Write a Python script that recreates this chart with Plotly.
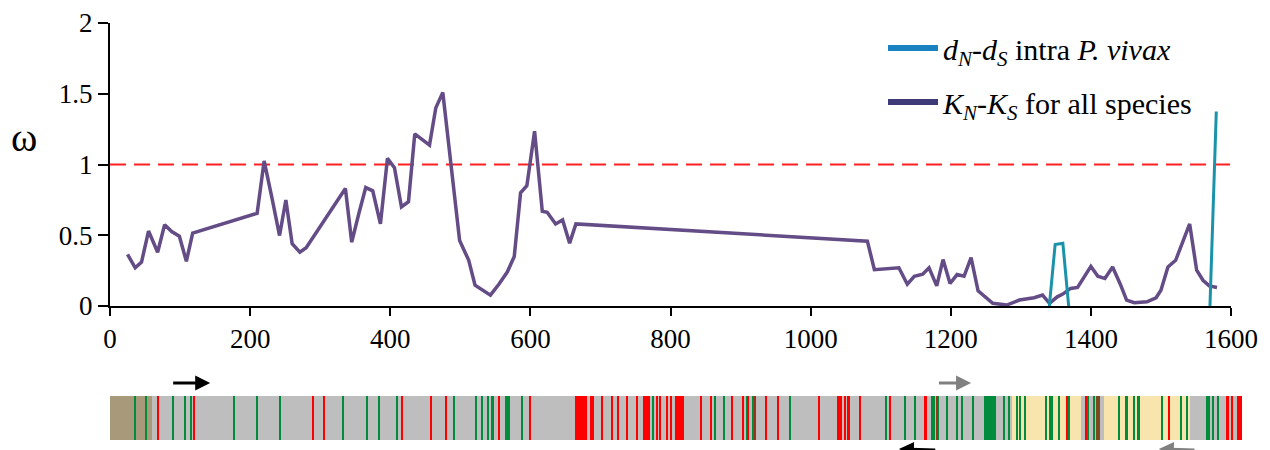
import plotly.graph_objects as go

# ---------------- data ----------------
kn_x = [25, 36, 45, 55, 68, 78, 88, 99, 109, 118,
        210, 220, 231, 242, 251, 260, 271, 280,
        336, 345, 355, 365, 375, 386, 396, 406, 416, 426, 435,
        456, 465, 475,
        499, 512, 521, 543, 555, 567, 577, 586, 595, 606,
        617, 624, 636, 646, 656, 665,
        1081, 1091,
        1126, 1138, 1148, 1160, 1169, 1180, 1189, 1199, 1209, 1219, 1229, 1239,
        1260, 1280, 1298, 1319, 1331, 1341, 1352, 1360, 1371, 1381,
        1400, 1410, 1420, 1431, 1442, 1451, 1462, 1480, 1493, 1500,
        1510, 1521, 1541, 1551, 1560, 1569, 1580]
kn_y = [0.365, 0.27, 0.31, 0.53, 0.38, 0.575, 0.526, 0.493, 0.316, 0.515,
        0.655, 1.025, 0.767, 0.498, 0.749, 0.44, 0.381, 0.412,
        0.83, 0.451, 0.65, 0.837, 0.814, 0.58, 1.043, 0.978, 0.70, 0.737, 1.216,
        1.137, 1.40, 1.509,
        0.463, 0.323, 0.147, 0.077, 0.154, 0.24, 0.35, 0.80, 0.85, 1.235,
        0.669, 0.662, 0.58, 0.608, 0.444, 0.58,
        0.458, 0.257,
        0.27, 0.154, 0.21, 0.225, 0.27, 0.142, 0.328, 0.159, 0.222, 0.21, 0.342, 0.107,
        0.019, 0.007, 0.042, 0.058, 0.077, 0.019, 0.065, 0.084, 0.124, 0.131,
        0.28, 0.21, 0.194, 0.276, 0.154, 0.042, 0.023, 0.03, 0.058, 0.112,
        0.276, 0.323, 0.58, 0.253, 0.182, 0.142, 0.131]

# dN-dS intra P. vivax (values below 0 fall outside the plotted range)
dn_x = [1335, 1349, 1360, 1372, 1568, 1579]
dn_y = [-0.3, 0.435, 0.444, -0.2, -0.3, 1.375]

threshold_x = [0, 1600]
threshold_y = [1, 1]

x_ticks = [0, 200, 400, 600, 800, 1000, 1200, 1400, 1600]
y_ticks = [0, 0.5, 1, 1.5, 2]
y_tick_text = ["0", "0.5", "1", "1.5", "2"]

# ---- gene map strip (positions in residues) ----
bg_start = [0, 60, 1287, 1386, 1419, 1541]
bg_end = [60, 1287, 1386, 1419, 1541, 1617]
bg_kind = ["tan", "gray", "yellow", "gray", "yellow", "gray"]

green_lines = [36, 51, 90, 107, 116, 177, 210, 243, 333, 367, 384, 409, 491,
               522, 531, 539, 546, 588, 775, 864, 876, 909, 918, 970,
               1107, 1135, 1149, 1173, 1176, 1182, 1194, 1209, 1216, 1232,
               1276, 1283, 1294, 1299, 1306, 1336, 1342, 1345, 1355, 1368,
               1396, 1405, 1412, 1440, 1450, 1452, 1462, 1468, 1501, 1528,
               1537, 1566, 1569, 1574, 1581]
red_lines = [68, 120, 290, 306, 417, 458, 480, 555, 600, 686, 690, 702, 717,
             725, 738, 752, 781, 785, 795, 801, 844, 858, 888, 903, 911, 936,
             954, 1012, 1049, 1054, 1071, 1113, 1164, 1366, 1393, 1512, 1595,
             1602]
darkred_lines = [920, 1180]
green_blocks_start = [564, 1248]
green_blocks_end = [571, 1265]
red_blocks_start = [664, 761, 807, 1038, 1609]
red_blocks_end = [681, 771, 819, 1045, 1617]
brown_blocks_start = [1407]
brown_blocks_end = [1413]

# domain arrows (tail, head) in residues
arrow_top_black = (88, 143)
arrow_top_gray = (1181, 1229)
arrow_bot_black = (1180, 1126)
arrow_bot_gray = (1550, 1497)

# ---------------- styling ----------------
OFF = 8                      # page body margin of the browser
W, H = 1270 - OFF, 450 - OFF  # figure fits inside the window
FONT = "Liberation Serif, Times New Roman, DejaVu Serif, serif"
PURPLE = "#644c86"
TEAL = "#1a93aa"
bg_colors = {"tan": "#a8997a", "gray": "#bebebe", "yellow": "#f8e5ae"}
GREEN = "#008c3c"
RED = "#ff0000"
DARKRED = "#a0301a"
BROWN = "#7b4a20"
LINE_W = 3.0  # stripe width in residues


def fx(p):
    return (p - OFF) / W


def fy(p):
    return 1 - (p - OFF) / H


fig = go.Figure()

fig.add_trace(go.Scatter(x=threshold_x, y=threshold_y, mode="lines",
                         line=dict(color="#ff2020", width=2, dash="16px,8px"),
                         showlegend=False, hoverinfo="skip"))
fig.add_trace(go.Scatter(x=kn_x, y=kn_y, mode="lines",
                         line=dict(color=PURPLE, width=3.5),
                         showlegend=False))
fig.add_trace(go.Scatter(x=dn_x, y=dn_y, mode="lines",
                         line=dict(color=TEAL, width=3),
                         showlegend=False))
# legend entries
fig.add_trace(go.Scatter(x=[None], y=[None], mode="lines",
                         line=dict(color="#1b82c2", width=6), legendgroup="a",
                         name="<i>d</i><sub><i>N</i></sub>-<i>d</i><sub><i>S</i></sub> intra <i>P. vivax</i>"))
fig.add_trace(go.Scatter(x=[None], y=[None], mode="lines",
                         line=dict(color="#3e3a78", width=6), legendgroup="b",
                         name="<i>K</i><sub><i>N</i></sub>-<i>K</i><sub><i>S</i></sub> for all species"))

# strip: background segments
for s, e, k in zip(bg_start, bg_end, bg_kind):
    fig.add_trace(go.Bar(x=[(s + e) / 2], y=[1], width=[e - s], base=0,
                         marker=dict(color=bg_colors[k], line=dict(width=0)),
                         xaxis="x2", yaxis="y2", showlegend=False, hoverinfo="skip"))


def add_lines(pos, color):
    fig.add_trace(go.Bar(x=pos, y=[1] * len(pos), width=[LINE_W] * len(pos), base=0,
                         marker=dict(color=color, line=dict(width=0)),
                         xaxis="x2", yaxis="y2", showlegend=False, hoverinfo="skip"))


def add_blocks(starts, ends, color):
    fig.add_trace(go.Bar(x=[(s + e) / 2 for s, e in zip(starts, ends)],
                         y=[1] * len(starts),
                         width=[e - s for s, e in zip(starts, ends)], base=0,
                         marker=dict(color=color, line=dict(width=0)),
                         xaxis="x2", yaxis="y2", showlegend=False, hoverinfo="skip"))


add_lines(green_lines, GREEN)
add_lines(red_lines, RED)
add_lines(darkred_lines, DARKRED)
add_blocks(green_blocks_start, green_blocks_end, GREEN)
add_blocks(red_blocks_start, red_blocks_end, RED)
add_blocks(brown_blocks_start, brown_blocks_end, BROWN)

px_l, px_r = 110, 1231
strip_r = 1242
strip_range = (strip_r - px_l) * 1600 / (px_r - px_l)

axis_common = dict(showline=True, linecolor="black", linewidth=2, ticks="outside",
                   tickcolor="black", tickwidth=2, showgrid=False, zeroline=False,
                   automargin=False,
                   tickfont=dict(family=FONT, size=27, color="black"))

fig.update_layout(
    width=W, height=H,
    margin=dict(l=0, r=0, t=0, b=0, autoexpand=False),
    paper_bgcolor="white", plot_bgcolor="white",
    barmode="overlay", bargap=0,
    xaxis=dict(domain=[fx(px_l), fx(px_r)], range=[0, 1600], tickvals=x_ticks,
               ticklen=8, anchor="y", **axis_common),
    yaxis=dict(domain=[fy(306), fy(23)], range=[0, 2], tickvals=y_ticks,
               ticktext=y_tick_text, ticklen=10, anchor="x", **axis_common),
    xaxis2=dict(domain=[fx(px_l), fx(strip_r)], range=[0, strip_range], visible=False,
                anchor="y2", automargin=False),
    yaxis2=dict(domain=[fy(440), fy(396)], range=[0, 1], visible=False,
                anchor="x2", automargin=False),
    legend=dict(x=fx(883), y=fy(22), xanchor="left", yanchor="top",
                font=dict(family=FONT, size=30, color="black"),
                bgcolor="rgba(0,0,0,0)", tracegroupgap=12, itemwidth=50),
    showlegend=True,
)

fig.add_annotation(text="ω", x=fx(24), y=fy(137), xref="paper", yref="paper",
                   showarrow=False, xanchor="center", yanchor="middle",
                   font=dict(family=FONT, size=40, color="black"))

for (tail, head), color, ypx in [(arrow_top_black, "black", 383),
                                 (arrow_top_gray, "#808080", 383),
                                 (arrow_bot_black, "black", 451),
                                 (arrow_bot_gray, "#808080", 451)]:
    fig.add_annotation(x=head, y=fy(ypx), xref="x2", yref="paper",
                       ax=tail, ay=0, axref="x2", ayref="pixel", text="",
                       showarrow=True, arrowhead=2, arrowsize=1, arrowwidth=3,
                       arrowcolor=color)

fig.write_html("out.html")
